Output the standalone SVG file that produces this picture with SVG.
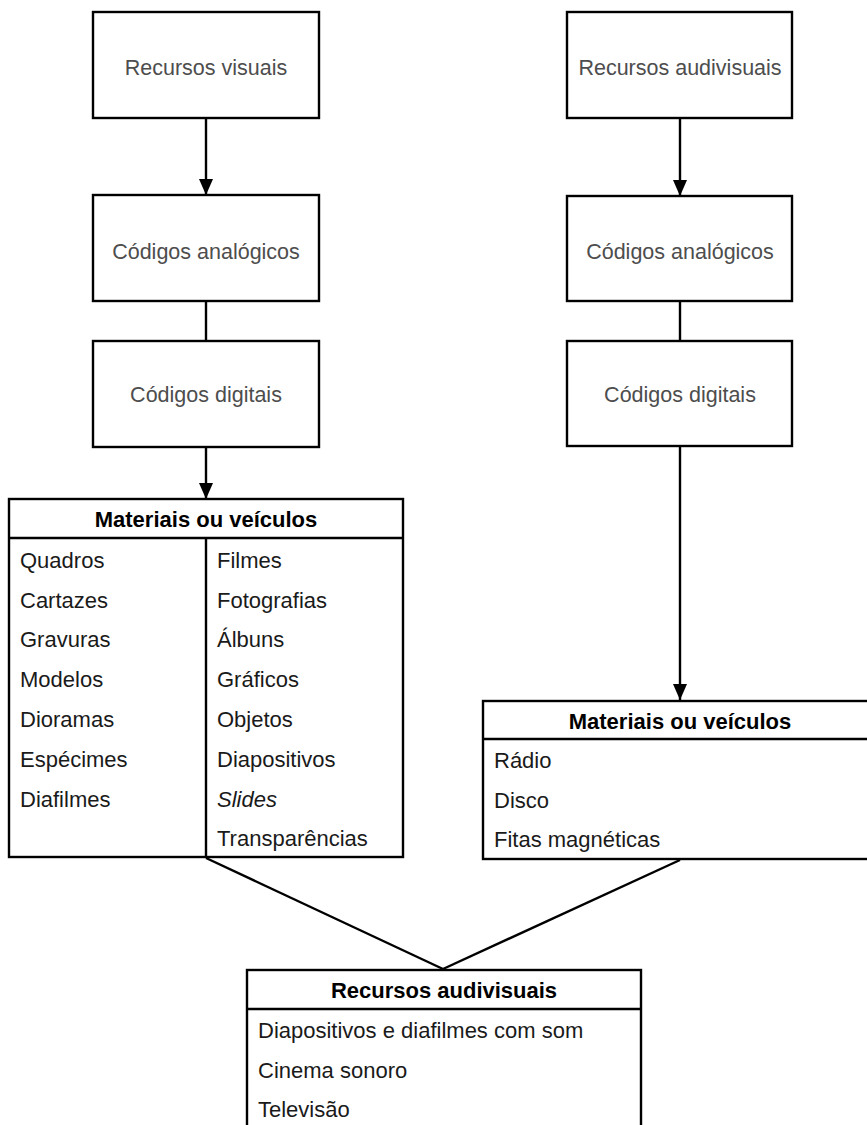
<svg xmlns="http://www.w3.org/2000/svg" width="867" height="1125" viewBox="0 0 867 1125">
<style>
.box{fill:#fff;stroke:#000;stroke-width:2.4}
.ln{fill:none;stroke:#000;stroke-width:2.4}
.lbl{font-family:"Liberation Sans",Arial,sans-serif;font-size:21.5px;fill:#4d4d4d;text-anchor:middle}
.hd{font-family:"Liberation Sans",Arial,sans-serif;font-size:22px;font-weight:bold;fill:#000;text-anchor:middle}
.it{font-family:"Liberation Sans",Arial,sans-serif;font-size:22px;fill:#1a1a1a}
</style>
<defs>
<marker id="ah" markerUnits="userSpaceOnUse" markerWidth="16" markerHeight="14" refX="16" refY="7" orient="auto">
<path d="M0,0 L16,7 L0,14 Z" fill="#000"/>
</marker>
</defs>
<rect width="867" height="1125" fill="#fff"/>
<g id="connectors">
<line class="ln" x1="206" y1="118" x2="206" y2="195" marker-end="url(#ah)"/>
<line class="ln" x1="206" y1="301" x2="206" y2="341"/>
<line class="ln" x1="206" y1="447" x2="206" y2="499" marker-end="url(#ah)"/>
<line class="ln" x1="680" y1="118" x2="680" y2="196" marker-end="url(#ah)"/>
<line class="ln" x1="680" y1="301" x2="680" y2="341"/>
<line class="ln" x1="680" y1="446" x2="680" y2="700" marker-end="url(#ah)"/>
<line class="ln" x1="206" y1="858" x2="443" y2="969"/>
<line class="ln" x1="680" y1="860" x2="443" y2="969"/>
</g>
<g id="n-visuais">
<rect class="box" x="93" y="12" width="226" height="106"/>
<text class="lbl" x="206" y="75">Recursos visuais</text>
</g>
<g id="n-analog-l">
<rect class="box" x="93" y="195" width="226" height="106"/>
<text class="lbl" x="206" y="259">Códigos analógicos</text>
</g>
<g id="n-digit-l">
<rect class="box" x="93" y="341" width="226" height="106"/>
<text class="lbl" x="206" y="402">Códigos digitais</text>
</g>
<g id="n-audiv">
<rect class="box" x="567" y="12" width="225" height="106"/>
<text class="lbl" x="680" y="75">Recursos audivisuais</text>
</g>
<g id="n-analog-r">
<rect class="box" x="567" y="196" width="225" height="105"/>
<text class="lbl" x="680" y="259">Códigos analógicos</text>
</g>
<g id="n-digit-r">
<rect class="box" x="567" y="341" width="225" height="105"/>
<text class="lbl" x="680" y="402">Códigos digitais</text>
</g>
<g id="n-mat-l">
<rect class="box" x="9" y="499" width="394" height="358"/>
<line class="ln" x1="9" y1="538" x2="403" y2="538"/>
<line class="ln" x1="206" y1="538" x2="206" y2="857"/>
<text class="hd" x="206" y="527">Materiais ou veículos</text>
<text class="it" x="20" y="568">Quadros</text>
<text class="it" x="20" y="608">Cartazes</text>
<text class="it" x="20" y="647">Gravuras</text>
<text class="it" x="20" y="687">Modelos</text>
<text class="it" x="20" y="727">Dioramas</text>
<text class="it" x="20" y="767">Espécimes</text>
<text class="it" x="20" y="807">Diafilmes</text>
<text class="it" x="217" y="568">Filmes</text>
<text class="it" x="217" y="608">Fotografias</text>
<text class="it" x="217" y="647">Álbuns</text>
<text class="it" x="217" y="687">Gráficos</text>
<text class="it" x="217" y="727">Objetos</text>
<text class="it" x="217" y="767">Diapositivos</text>
<text class="it" x="217" y="807" font-style="italic">Slides</text>
<text class="it" x="217" y="846">Transparências</text>
</g>
<g id="n-mat-r">
<rect class="box" x="483" y="701" width="400" height="158"/>
<line class="ln" x1="483" y1="739" x2="883" y2="739"/>
<text class="hd" x="680" y="729">Materiais ou veículos</text>
<text class="it" x="494" y="768">Rádio</text>
<text class="it" x="494" y="808">Disco</text>
<text class="it" x="494" y="847">Fitas magnéticas</text>
</g>
<g id="n-result">
<rect class="box" x="247" y="970" width="394" height="170"/>
<line class="ln" x1="247" y1="1009" x2="641" y2="1009"/>
<text class="hd" x="444" y="998">Recursos audivisuais</text>
<text class="it" x="258" y="1038">Diapositivos e diafilmes com som</text>
<text class="it" x="258" y="1078">Cinema sonoro</text>
<text class="it" x="258" y="1117">Televisão</text>
</g>
</svg>
